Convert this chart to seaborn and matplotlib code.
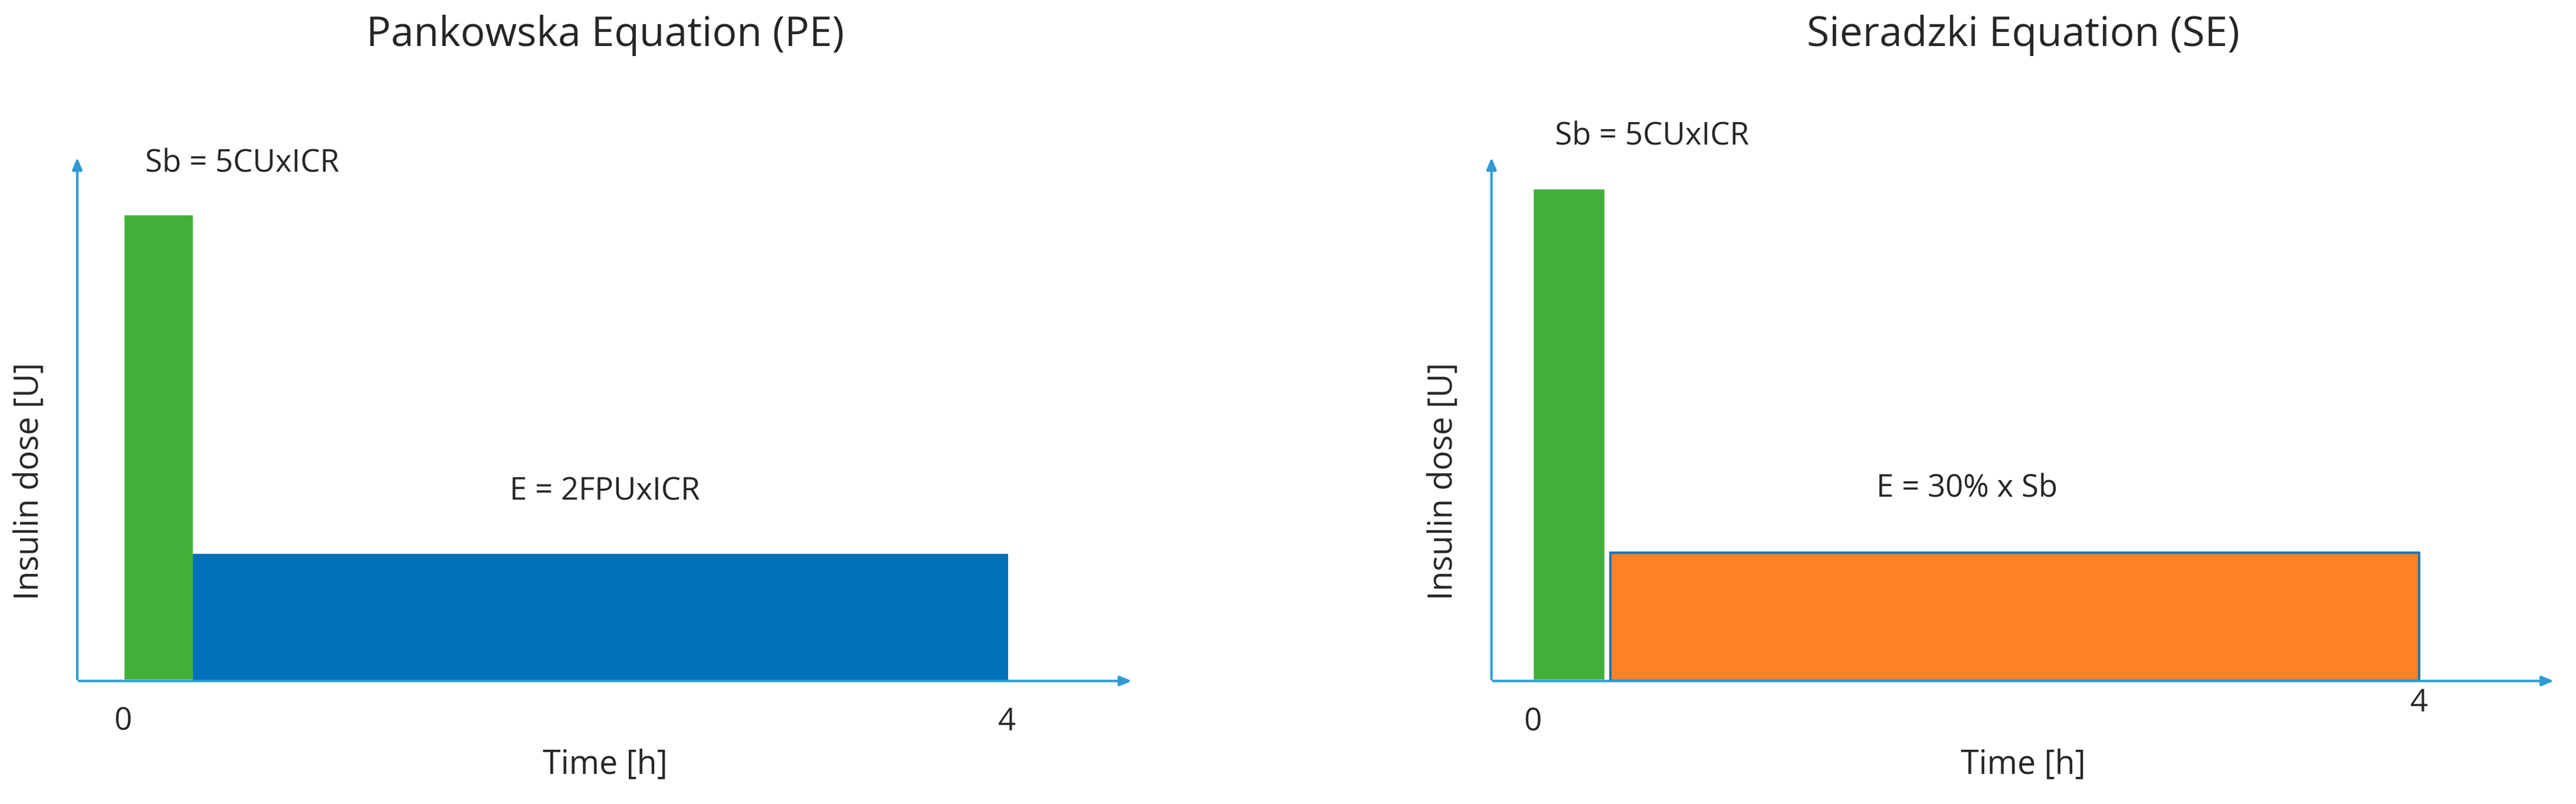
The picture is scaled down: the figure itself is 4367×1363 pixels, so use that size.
import matplotlib
matplotlib.use("Agg")
import matplotlib.pyplot as plt
import seaborn as sns

sns.set_style("white")
plt.rcParams['font.family'] = ['Open Sans', 'DejaVu Sans']

# bars: (start, width, height) in time units / arbitrary dose units
pe_starts = [0.0, 0.32]
pe_widths = [0.32, 3.68]
pe_heights = [3.7, 1.0]
pe_colors = ["#43B03A", "#0072B7"]

se_starts = [0.0, 0.35]
se_widths = [0.33, 3.65]
se_heights = [3.85, 1.0]
se_colors = ["#43B03A", "#FF8125"]

ARROW = "#2E9BD6"

fig = plt.figure(figsize=(43.67, 13.63), dpi=100)


def panel(rect, xlim, ylim, starts, widths, heights, colors, edges, title, sb_pos, e_pos, e_text, four_y):
    ax = fig.add_axes(rect)
    ax.bar(starts, heights, width=widths, align="edge", color=colors,
           edgecolor=edges, linewidth=3)
    ax.set_xlim(*xlim)
    ax.set_ylim(*ylim)
    for s in ax.spines.values():
        s.set_visible(False)
    ax.set_xticks([])
    ax.set_yticks([])
    ax.annotate("", xy=(1, 0), xytext=(0, 0), xycoords="axes fraction",
                arrowprops=dict(arrowstyle="-|>,head_length=1.2,head_width=0.5", color=ARROW, lw=3))
    ax.annotate("", xy=(0, 1), xytext=(0, 0), xycoords="axes fraction",
                arrowprops=dict(arrowstyle="-|>,head_length=1.2,head_width=0.5", color=ARROW, lw=3))
    ax.text(0, -0.2, "0", ha="center", va="top", fontsize=38)
    ax.text(4, four_y, "4", ha="center", va="top", fontsize=38)
    ax.text(sb_pos[0], sb_pos[1], "Sb = 5CUxICR", ha="left", va="center", fontsize=38)
    ax.text(e_pos[0], e_pos[1], e_text, ha="left", va="center", fontsize=38)
    ax.text(0.5, -0.16, "Time [h]", transform=ax.transAxes, ha="center", va="center", fontsize=40)
    ax.text(-0.045, 0.38, "Insulin dose [U]", transform=ax.transAxes, ha="center", va="center",
            rotation=90, fontsize=40)
    ax.text(0.5, 1.23, title, transform=ax.transAxes, ha="center", va="center", fontsize=50)
    return ax


panel([0.030, 0.153, 0.410, 0.653], (-0.208, 4.573), (0, 4.16),
      pe_starts, pe_widths, pe_heights, pe_colors, ["white", "#0072B7"],
      "Pankowska Equation (PE)", (0.1, 4.1), (1.75, 1.5), "E = 2FPUxICR", -0.2)

panel([0.579, 0.153, 0.413, 0.653], (-0.186, 4.616), (0, 4.10),
      se_starts, se_widths, se_heights, se_colors, ["white", "#1F77B4"],
      "Sieradzki Equation (SE)", (0.1, 4.25), (1.55, 1.5), "E = 30% x Sb", -0.05)

fig.savefig("out.png", dpi=100)
